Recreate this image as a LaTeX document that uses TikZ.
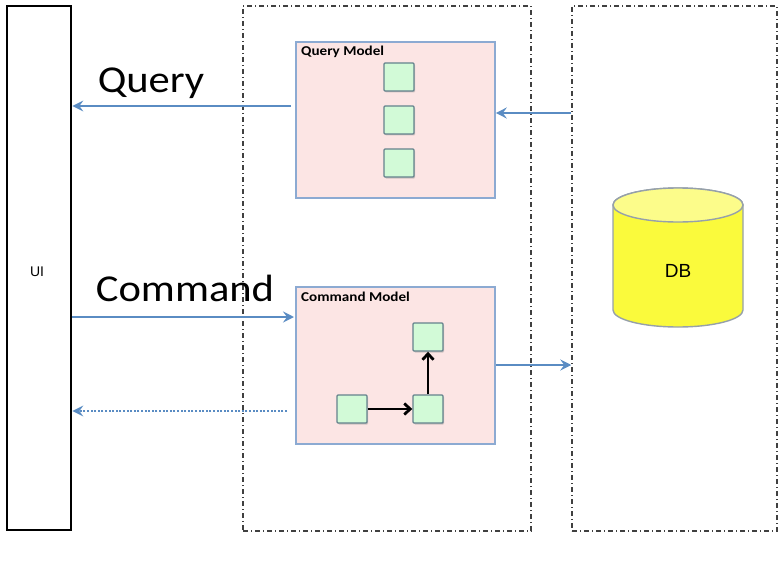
\documentclass[tikz,border=0pt]{standalone}
\usepackage{fontspec}
\setmainfont{Carlito}[FakeStretch=1.12]
\newfontfamily\uifont{Liberation Sans}
\usetikzlibrary{arrows.meta,shadows}
\definecolor{arrblue}{RGB}{90,140,195}
\definecolor{modelfill}{RGB}{252,229,228}
\definecolor{modelline}{RGB}{140,170,210}
\definecolor{sqfill}{RGB}{210,250,215}
\definecolor{sqline}{RGB}{100,130,140}
\definecolor{dbfill}{RGB}{250,250,60}
\definecolor{dbline}{RGB}{150,160,170}
\tikzset{
  arr/.style={draw=arrblue,line width=2.8pt,-{Stealth[length=11pt,width=11pt,inset=4pt]}},
  darr/.style={arr,dash pattern=on 2pt off 1.6pt,line width=2.6pt},
  karr/.style={draw=black,line width=2.8pt,-{Straight Barb[length=6pt,width=11pt]}},
  tier/.style={draw=black!75,line width=1.5pt,dash pattern=on 5pt off 3pt on 1pt off 3pt,inner sep=0pt},
  model/.style={draw=modelline,fill=modelfill,line width=1.6pt,inner sep=0pt},
  sq/.style={draw=sqline,fill=sqfill,line width=1.4pt,minimum width=30pt,minimum height=28pt,inner sep=0pt,rounded corners=1pt,drop shadow={shadow xshift=1.2pt,shadow yshift=-1.5pt,opacity=0.35}},
  bigtxt/.style={font=\fontsize{38}{42}\selectfont,inner sep=0pt},
  smalltxt/.style={font=\fontsize{13.5}{15}\selectfont\bfseries,inner sep=0pt,anchor=west}
}
\begin{document}
\begin{tikzpicture}[x=1pt,y=-1pt]
\useasboundingbox (0,0) rectangle (784,567);
% UI
\node[draw=black,line width=2.7pt,minimum width=64pt,minimum height=524pt,inner sep=0pt] (ui) at (39,268) {};
\node[font=\uifont\fontsize{14}{16}\selectfont] (uil) at (37,272) {UI};
% tiers
\node[tier,minimum width=288pt,minimum height=525pt] (mid) at (387,268.5) {};
\node[tier,minimum width=205pt,minimum height=525pt] (right) at (674.5,268.5) {};
% models
\node[model,minimum width=199pt,minimum height=156pt] (qm) at (395.5,120) {};
\node[smalltxt] (qml) at (301,52) {Query Model};
\node[model,minimum width=199pt,minimum height=157pt] (cm) at (395.5,365.5) {};
\node[smalltxt] (cml) at (301,297) {Command Model};
% query squares
\node[sq] (q1) at (399,77) {};
\node[sq] (q2) at (399,120) {};
\node[sq] (q3) at (399,163) {};
% command squares
\node[sq] (c1) at (352,409) {};
\node[sq] (c2) at (428,409) {};
\node[sq] (c3) at (428,337) {};
\draw[karr] (c1) -- (c2);
\draw[karr] (c2) -- (c3);
% DB cylinder
\path[draw=dbline,fill=dbfill,line width=1.4pt]
  (613,205) -- (613,310) arc[start angle=180,end angle=0,x radius=65,y radius=17] -- (743,205)
  arc[start angle=0,end angle=-180,x radius=65,y radius=17] -- cycle;
\path[draw=dbline,fill=dbfill!60!white,line width=1.4pt] (678,205) ellipse[x radius=65,y radius=17];
\node[font=\uifont\fontsize{19}{21}\selectfont] (db) at (678,271) {DB};
% labels
\node[bigtxt] (ql) at (151,83) {Query};
\node[bigtxt] (cl) at (185,288) {Command};
% connectors
\coordinate (qs) at (291,106);
\coordinate (ds) at (287,411);
\coordinate (ce) at (294,317);
\draw[arr] (qs) -- (ui.east |- qs);
\draw[arr] (right.west |- 0,113) -- (qm.east |- 0,113);
\draw[arr] (ui.east |- ce) -- (ce);
\draw[darr] (ds) -- (ui.east |- ds);
\draw[arr] (cm.east |- 0,365) -- (right.west |- 0,365);
\end{tikzpicture}
\end{document}
